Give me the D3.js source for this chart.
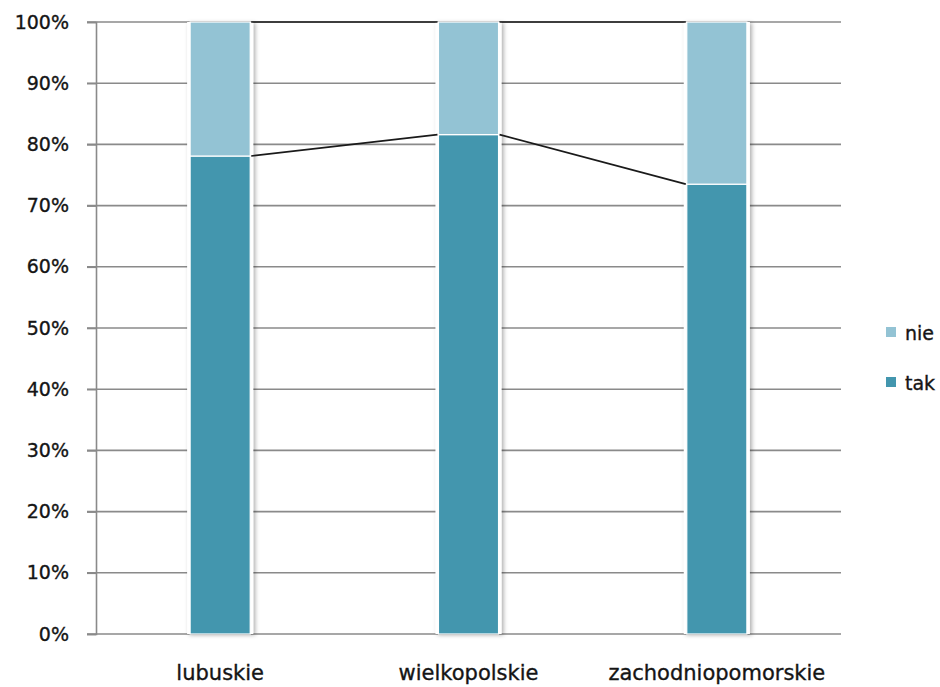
<!DOCTYPE html>
<html>
<head>
<meta charset="utf-8">
<script src="https://cdn.jsdelivr.net/npm/d3@7"></script>
<style>
  html, body { margin: 0; padding: 0; background: #ffffff; }
  svg { display: block; }
  text { font-family: "DejaVu Sans", Verdana, sans-serif; fill: #151515; stroke: #151515; stroke-width: 0.35px; }
</style>
</head>
<body>
<svg id="chart" width="940" height="687"></svg>
<script>
// Regions (województwa) and the share of answers per region
const categories = ["lubuskie", "wielkopolskie", "zachodniopomorskie"];
const tak = [78.1, 81.6, 73.5];
const nie = [21.9, 18.4, 26.5];
const yTicks = [0, 10, 20, 30, 40, 50, 60, 70, 80, 90, 100];
const legendLabels = ["nie", "tak"];

const colors = { tak: "#4396ae", nie: "#93c3d4" };

const svg = d3.select("#chart");
const plot = { left: 96, right: 841, top: 22, bottom: 634 };

const x = d3.scaleBand()
  .domain(categories)
  .range([plot.left, plot.right])
  .paddingInner(0.758)
  .paddingOuter(0.379);

const y = d3.scaleLinear().domain([0, 100]).range([plot.bottom, plot.top]);

// soft shadow behind the columns
const defs = svg.append("defs");
const shadow = defs.append("filter").attr("id", "colShadow")
  .attr("x", "-20%").attr("y", "-5%").attr("width", "150%").attr("height", "110%");
shadow.append("feDropShadow")
  .attr("dx", 2).attr("dy", 1).attr("stdDeviation", 2)
  .attr("flood-color", "#000").attr("flood-opacity", 0.32);

// horizontal gridlines (extend across the tick marks)
svg.append("g").selectAll("line")
  .data(yTicks)
  .join("line")
  .attr("x1", plot.left - 9)
  .attr("x2", plot.right)
  .attr("y1", d => y(d))
  .attr("y2", d => y(d))
  .attr("stroke", "#8a8a8a")
  .attr("stroke-width", 1.6);

// left axis with percentage labels
const yAxis = d3.axisLeft(y)
  .tickValues(yTicks)
  .tickFormat(d => d + "%")
  .tickSize(9)
  .tickPadding(18);

const axisG = svg.append("g")
  .attr("transform", `translate(${plot.left},0)`)
  .call(yAxis);
axisG.select(".domain").attr("stroke", "#8a8a8a").attr("stroke-width", 1.6);
axisG.selectAll(".tick line").attr("stroke", "#8a8a8a").attr("stroke-width", 1.6);
axisG.selectAll(".tick text")
  .attr("font-size", 19)
  .attr("font-family", "'DejaVu Sans', Verdana, sans-serif")
  .attr("fill", "#151515");

// stacked data
const rows = categories.map((c, i) => ({ cat: c, tak: tak[i], nie: nie[i] }));
const stack = d3.stack().keys(["tak", "nie"])(rows);

const bw = x.bandwidth();

// white halo + shadow under each column
svg.append("g").selectAll("rect")
  .data(rows)
  .join("rect")
  .attr("x", d => x(d.cat) - 3)
  .attr("width", bw + 6)
  .attr("y", y(100))
  .attr("height", y(0) - y(100))
  .attr("fill", "#ffffff")
  .attr("filter", "url(#colShadow)");

svg.append("g").selectAll("g")
  .data(stack)
  .join("g")
  .attr("fill", d => colors[d.key])
  .selectAll("rect")
  .data(d => d)
  .join("rect")
  .attr("x", d => x(d.data.cat))
  .attr("width", bw)
  .attr("y", d => y(d[1]))
  .attr("height", d => y(d[0]) - y(d[1]))
  .attr("stroke", "#ffffff")
  .attr("stroke-width", 1.2);

// series lines joining the tops of neighbouring columns
const seriesLines = svg.append("g")
  .attr("stroke", "#1a1a1a")
  .attr("stroke-width", 1.7)
  .attr("fill", "none");

stack.forEach(layer => {
  for (let i = 0; i < layer.length - 1; i++) {
    const a = layer[i], b = layer[i + 1];
    seriesLines.append("line")
      .attr("x1", x(a.data.cat) + bw + 1)
      .attr("y1", y(a[1]))
      .attr("x2", x(b.data.cat) - 1)
      .attr("y2", y(b[1]));
  }
});

// category labels
svg.append("g").selectAll("text")
  .data(categories)
  .join("text")
  .attr("x", d => x(d) + bw / 2)
  .attr("y", 680)
  .attr("text-anchor", "middle")
  .attr("font-size", 21)
  .text(d => d);

// legend
const legend = svg.append("g").selectAll("g")
  .data(legendLabels)
  .join("g")
  .attr("transform", (d, i) => `translate(886,${327 + i * 50})`);
legend.append("rect")
  .attr("width", 10).attr("height", 10)
  .attr("fill", d => colors[d]);
legend.append("text")
  .attr("x", 19).attr("y", 13)
  .attr("font-size", 19)
  .text(d => d);
</script>
</body>
</html>
